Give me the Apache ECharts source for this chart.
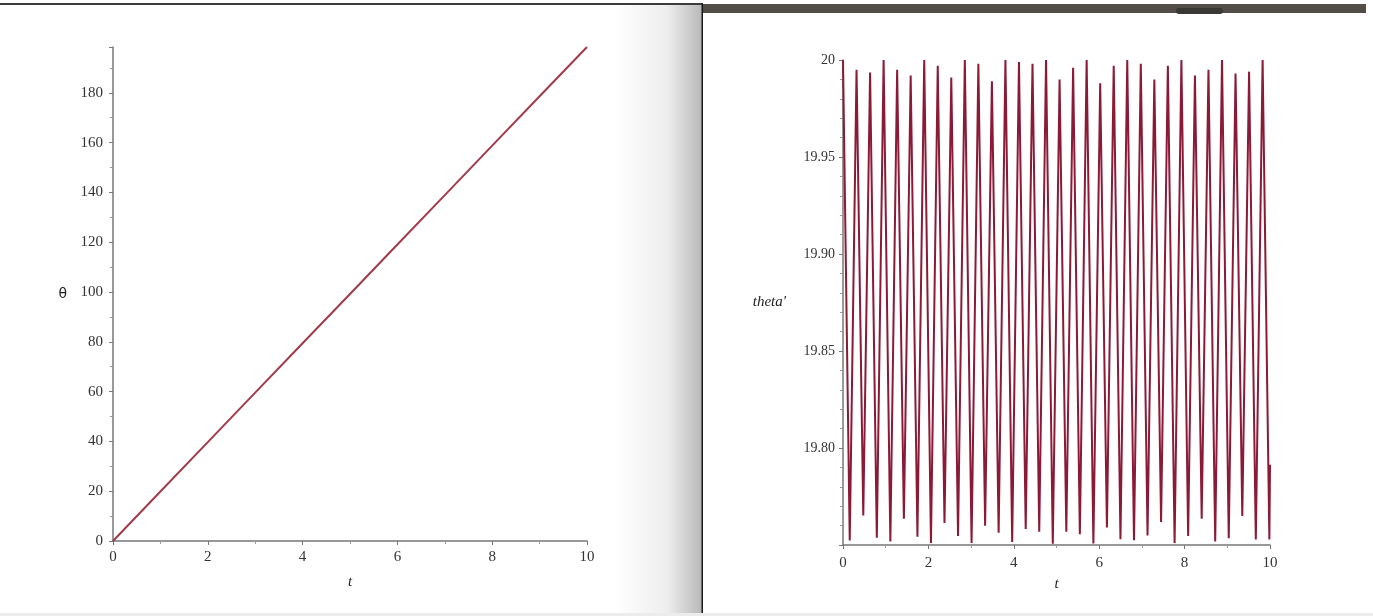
<!DOCTYPE html>
<html>
<head>
<meta charset="utf-8">
<script src="https://cdn.jsdelivr.net/npm/echarts@6/dist/echarts.min.js"></script>
<style>
  html, body { margin: 0; padding: 0; background: #fff; }
  #chart { width: 1373px; height: 616px; }
</style>
</head>
<body>
<div id="chart"></div>
<script>
// left plot: theta(t)
const thetaT = [0, 1, 2, 3, 4, 5, 6, 7, 8, 9, 10]
const thetaV = [0, 19.9, 39.7, 59.6, 79.4, 99.2, 119.1, 138.9, 158.8, 178.6, 198.4]

// right plot: theta'(t), peaks and troughs
const dotT = [
  0, 0.158, 0.317, 0.475, 0.634, 0.792, 0.951, 1.109, 1.268, 1.426,
  1.585, 1.743, 1.902, 2.060, 2.219, 2.377, 2.536, 2.694, 2.853, 3.011,
  3.170, 3.328, 3.487, 3.645, 3.804, 3.962, 4.121, 4.279, 4.438, 4.596,
  4.755, 4.913, 5.072, 5.230, 5.389, 5.547, 5.706, 5.864, 6.023, 6.181,
  6.340, 6.498, 6.657, 6.815, 6.974, 7.132, 7.291, 7.449, 7.608, 7.766,
  7.925, 8.083, 8.242, 8.400, 8.559, 8.717, 8.876, 9.034, 9.193, 9.351,
  9.510, 9.668, 9.827, 9.985, 10.0
]
const dotV = [
  20.000, 19.7523, 19.995, 19.7652, 19.9935, 19.7537, 20.000, 19.7518, 19.995, 19.7635,
  19.992, 19.7542, 20.000, 19.7511, 19.997, 19.7614, 19.991, 19.7547, 20.000, 19.7511,
  19.998, 19.7599, 19.989, 19.7563, 20.000, 19.7516, 19.999, 19.7583, 19.998, 19.7568,
  20.000, 19.7506, 19.990, 19.7568, 19.996, 19.7555, 20.000, 19.7508, 19.988, 19.7590,
  19.997, 19.7530, 20.000, 19.7525, 19.998, 19.7549, 19.990, 19.7618, 19.997, 19.7511,
  20.000, 19.7546, 19.992, 19.7635, 19.995, 19.7518, 20.000, 19.7535, 19.993, 19.7649,
  19.994, 19.7528, 20.000, 19.7528, 19.7914
]

const xTicks = [0, 10, 2]        // min, max, step for both t axes
const thetaTicks = [0, 198.4, 20]
const dotTicks = [19.75, 20, 0.05]

const axisGrey = '#777'
const labelFont = 'Liberation Serif'

function tAxis(gridIndex, gap, margin) {
  return {
    type: 'value',
    gridIndex,
    min: xTicks[0],
    max: xTicks[1],
    interval: xTicks[2],
    name: 't',
    nameLocation: 'middle',
    nameGap: gap,
    nameTextStyle: { fontFamily: labelFont, fontStyle: 'italic', fontSize: 15, color: '#222' },
    axisLine: { onZero: false, lineStyle: { color: axisGrey, width: 1.5 } },
    axisTick: { length: 4, lineStyle: { color: axisGrey } },
    minorTick: { show: true, splitNumber: 2, length: 3, lineStyle: { color: '#999' } },
    splitLine: { show: false },
    axisLabel: { fontFamily: labelFont, fontSize: 15, color: '#333', margin }
  }
}

const chart = echarts.init(document.getElementById('chart'))

chart.setOption({
  animation: false,
  backgroundColor: '#fff',
  grid: [
    { left: 113, top: 47, width: 474, height: 494 },
    { left: 843, top: 60, width: 427, height: 485 }
  ],
  xAxis: [tAxis(0, 34, 9), tAxis(1, 32, 11)],
  yAxis: [
    {
      type: 'value',
      gridIndex: 0,
      min: thetaTicks[0],
      max: thetaTicks[1],
      interval: thetaTicks[2],
      name: 'θ',
      nameLocation: 'middle',
      nameRotate: 0,
      nameGap: 46,
      nameTextStyle: { fontFamily: 'DejaVu Sans', fontSize: 14, color: '#222' },
      axisLine: { onZero: false, lineStyle: { color: axisGrey, width: 1.5 } },
      axisTick: { length: 4, lineStyle: { color: axisGrey } },
      minorTick: { show: true, splitNumber: 2, length: 3, lineStyle: { color: '#999' } },
      splitLine: { show: false },
      axisLabel: { fontFamily: labelFont, fontSize: 15, color: '#333', margin: 10, showMaxLabel: false }
    },
    {
      type: 'value',
      gridIndex: 1,
      min: dotTicks[0],
      max: dotTicks[1],
      interval: dotTicks[2],
      name: "theta'",
      nameLocation: 'middle',
      nameRotate: 0,
      nameGap: 57,
      nameTextStyle: { fontFamily: labelFont, fontStyle: 'italic', fontSize: 15, color: '#222' },
      axisLine: { onZero: false, lineStyle: { color: axisGrey, width: 1.5 } },
      axisTick: { length: 4, lineStyle: { color: axisGrey } },
      minorTick: { show: true, splitNumber: 5, length: 3, lineStyle: { color: '#999' } },
      splitLine: { show: false },
      axisLabel: {
        fontFamily: labelFont, fontSize: 14, color: '#333', margin: 8, showMinLabel: false,
        formatter: v => Math.abs(v - 20) < 1e-9 ? '20' : v.toFixed(2)
      }
    }
  ],
  series: [
    {
      type: 'line',
      xAxisIndex: 0,
      yAxisIndex: 0,
      showSymbol: false,
      lineStyle: { color: '#a23a4a', width: 2 },
      data: thetaT.map((t, i) => [t, thetaV[i]])
    },
    {
      type: 'line',
      xAxisIndex: 1,
      yAxisIndex: 1,
      showSymbol: false,
      lineStyle: { color: '#8b1a36', width: 2 },
      data: dotT.map((t, i) => [t, dotV[i]])
    }
  ],
  graphic: [
    // screenshot frame bits
    { type: 'rect', shape: { x: 0, y: 3, width: 702, height: 2 }, style: { fill: '#3c3c3c' } },
    {
      type: 'rect', shape: { x: 615, y: 5, width: 87, height: 608 },
      style: {
        fill: new echarts.graphic.LinearGradient(0, 0, 1, 0, [
          { offset: 0, color: '#ffffff' },
          { offset: 0.6, color: '#eeeeee' },
          { offset: 1, color: '#b8b8b8' }
        ])
      }
    },
    { type: 'rect', shape: { x: 701.5, y: 3, width: 1.5, height: 610 }, style: { fill: '#1a1a1a' } },
    { type: 'rect', shape: { x: 703, y: 4, width: 663, height: 9 }, style: { fill: '#524e47' } },
    { type: 'rect', shape: { x: 1176, y: 8, width: 47, height: 6, r: 3 }, style: { fill: '#3a3835' } },
    { type: 'rect', shape: { x: 0, y: 613, width: 1373, height: 3 }, style: { fill: '#ececec' } }
  ]
})
</script>
</body>
</html>
